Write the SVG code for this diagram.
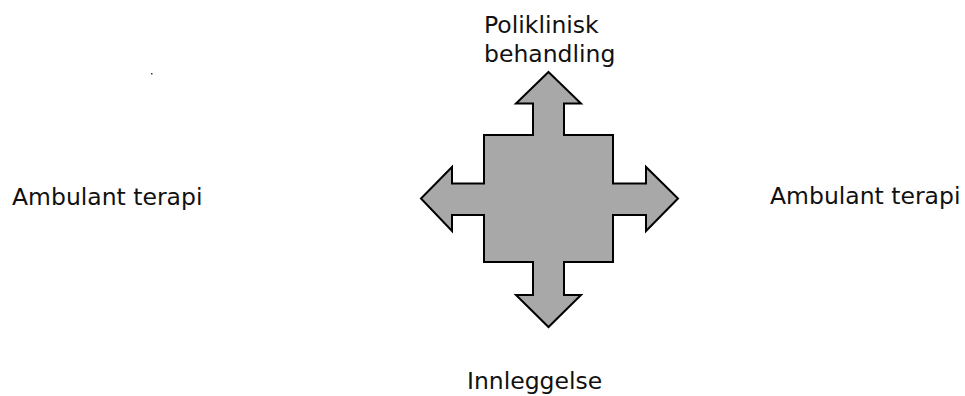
<svg xmlns="http://www.w3.org/2000/svg" width="965" height="396" viewBox="0 0 965 396">
<style>
.lbl{font-family:"DejaVu Sans","Verdana",sans-serif;font-size:23.5px;fill:#111}
.arrow{fill:#a8a8a8;stroke:#000;stroke-width:2;stroke-linejoin:miter}
</style>
<rect width="965" height="396" fill="#fff"/>
<g id="cross">
<path class="arrow" d="M548.5,72 L581,103.5 L564,103.5 L564,135 L613,135 L613,183.5 L646,183.5 L646,167 L678,198.5 L646,231 L646,215 L613,215 L613,262 L564,262 L564,295 L581,295 L548.5,327 L516,295 L533,295 L533,262 L484,262 L484,215 L452,215 L452,231 L421,198.5 L452,167 L452,183.5 L484,183.5 L484,135 L533,135 L533,103.5 L516,103.5 Z"/>
</g>
<g id="connectors"></g>
<g id="top-label"><text class="lbl" x="484" y="33">Poliklinisk</text><text class="lbl" x="484" y="62">behandling</text></g>
<g id="left-label"><text class="lbl" x="12" y="205">Ambulant terapi</text></g>
<g id="right-label"><text class="lbl" x="770" y="204">Ambulant terapi</text></g>
<g id="bottom-label"><text class="lbl" x="467" y="389">Innleggelse</text></g>
<rect x="151" y="73" width="1.5" height="1.5" fill="#333"/>
</svg>
